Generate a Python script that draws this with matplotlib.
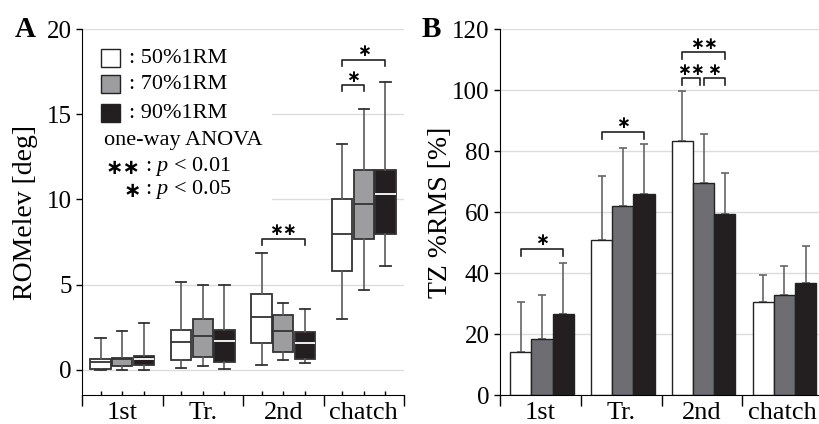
import numpy as np
import matplotlib.pyplot as plt
from matplotlib.patches import Rectangle

plt.rcParams['font.family'] = ['Liberation Serif', 'DejaVu Sans']
plt.rcParams['mathtext.fontset'] = 'custom'
plt.rcParams['mathtext.it'] = 'Liberation Serif:italic'
plt.rcParams['mathtext.rm'] = 'Liberation Serif'

groups = ['1st', 'Tr.', '2nd', 'chatch']
loads = ['50%1RM', '70%1RM', '90%1RM']

# panel A box stats, one row per load, columns = groups
rom_lo = [[0.0, 0.1, 0.3, 3.0], [0.0, 0.2, 0.55, 4.7], [0.0, 0.05, 0.4, 6.1]]
rom_q1 = [[0.05, 0.55, 1.55, 5.8], [0.2, 0.75, 1.05, 7.65], [0.25, 0.45, 0.6, 7.95]]
rom_med = [[0.45, 1.6, 3.1, 7.95], [0.6, 1.95, 2.25, 9.75], [0.6, 1.7, 1.55, 10.3]]
rom_q3 = [[0.6, 2.3, 4.45, 10.0], [0.7, 3.0, 3.2, 11.75], [0.8, 2.3, 2.2, 11.75]]
rom_hi = [[1.85, 5.15, 6.85, 13.25], [2.25, 5.0, 3.9, 15.3], [2.75, 5.0, 3.55, 16.9]]

# panel B mean + SD
tz_mean = [[14.2, 50.9, 83.2, 30.4], [18.3, 62.1, 69.5, 32.8], [26.5, 65.9, 59.3, 36.7]]
tz_sd = [[16.4, 21.1, 16.5, 9.0], [14.5, 18.8, 16.1, 9.4], [16.7, 16.4, 13.5, 12.1]]

colA = ['white', '#9d9d9f', '#231f20']
medA = ['#333333', '#333333', 'white']
colB = ['white', '#6e6d71', '#231f20']
offs = [-0.27, 0.0, 0.27]
STAR = '\u2217'
star_font = ['DejaVu Sans']

fig = plt.figure(figsize=(8.2, 4.24), dpi=100)
axA = fig.add_axes([0.1, 0.068, 0.3927, 0.863])
axB = fig.add_axes([0.6098, 0.068, 0.394, 0.863])

centers = np.arange(4) + 0.5

def style(ax):
    for s in ['top', 'right']:
        ax.spines[s].set_visible(False)
    ax.set_axisbelow(True)
    ax.yaxis.grid(True, color='#dcdcdc', lw=1)
    ax.set_xlim(0, 4)
    ax.set_xticks(centers)
    ax.set_xticklabels(groups, fontsize=19)
    ax.tick_params(axis='x', which='major', length=0, pad=5)
    ax.set_xticks(np.arange(5), minor=True)
    ax.tick_params(axis='x', which='minor', direction='out', length=8, width=1)
    ax.tick_params(axis='y', direction='out', length=4, width=1, labelsize=18)

def bracket(ax, x0, x1, y, leg, txt, ty, fs=12):
    ax.plot([x0, x0, x1, x1], [y - leg, y, y, y - leg], color='#222222', lw=1.2)
    ax.text((x0 + x1) / 2, ty, txt, ha='center', va='center', fontsize=fs,
            family=star_font, fontweight='bold')

# ---- A ----
style(axA)
axA.set_ylim(-1.5, 20)
axA.set_yticks([0, 5, 10, 15, 20])
axA.set_ylabel('ROMelev [deg]', fontsize=20)
axA.yaxis.set_label_coords(-0.137, 0.5)

allpos = []
for i in range(3):
    stats = []
    for g in range(4):
        stats.append(dict(whislo=rom_lo[i][g], q1=rom_q1[i][g], med=rom_med[i][g],
                          q3=rom_q3[i][g], whishi=rom_hi[i][g], fliers=[]))
    pos = centers + offs[i]
    allpos += list(pos)
    axA.bxp(stats, positions=pos, widths=0.25, patch_artist=True, showfliers=False,
            manage_ticks=False, capwidths=0.13,
            boxprops=dict(facecolor=colA[i], edgecolor='#333333', lw=1.3),
            whiskerprops=dict(color='#5a5a5a', lw=1.2),
            capprops=dict(color='#333333', lw=1.3),
            medianprops=dict(color=medA[i], lw=1.3))

sec = axA.secondary_xaxis('bottom')
sec.set_xticks(sorted(allpos))
sec.tick_params(direction='in', length=3, width=1, labelbottom=False)
sec.spines['bottom'].set_visible(False)

# legend block
axA.add_patch(Rectangle((0.0, 0.519), 0.59, 0.465, transform=axA.transAxes,
                        facecolor='white', edgecolor='none', zorder=1.5))
for i, ly in enumerate([0.896, 0.825, 0.746]):
    axA.add_patch(Rectangle((0.059, ly), 0.059, 0.049, transform=axA.transAxes,
                            facecolor=colA[i], edgecolor='#222222', lw=1, zorder=3))
    axA.text(0.146, ly + 0.025, ': ' + loads[i], transform=axA.transAxes,
             fontsize=16, va='center', zorder=3)
axA.text(0.068, 0.697, 'one-way ANOVA', transform=axA.transAxes, fontsize=16,
         va='center', zorder=3)
axA.text(0.073, 0.622, STAR + STAR, transform=axA.transAxes, fontsize=15,
         va='center', family=star_font, fontweight='bold', zorder=3)
axA.text(0.196, 0.626, r': $p$ < 0.01', transform=axA.transAxes, fontsize=16,
         va='center', zorder=3)
axA.text(0.128, 0.559, STAR, transform=axA.transAxes, fontsize=15,
         va='center', family=star_font, fontweight='bold', zorder=3)
axA.text(0.196, 0.563, r': $p$ < 0.05', transform=axA.transAxes, fontsize=16,
         va='center', zorder=3)

bracket(axA, 3.5 + offs[0], 3.5, 16.7, 0.35, STAR, 17.2)
bracket(axA, 3.5 + offs[0], 3.5 + offs[2], 18.2, 0.35, STAR, 18.75)
bracket(axA, 2.5 + offs[0], 2.5 + offs[2], 7.7, 0.35, STAR + STAR, 8.2)

# ---- B ----
style(axB)
axB.set_ylim(0, 120)
axB.set_yticks(np.arange(0, 121, 20))
axB.set_ylabel('TZ %RMS [%]', fontsize=20)
axB.yaxis.set_label_coords(-0.146, 0.5)
axB.spines['bottom'].set_zorder(4)
for i in range(3):
    pos = centers + 0.02 + offs[i] * 0.97
    axB.bar(pos, tz_mean[i], width=0.262, color=colB[i], edgecolor='#222222', lw=1, zorder=2)
    axB.errorbar(pos, tz_mean[i], yerr=[np.zeros(4), tz_sd[i]], fmt='none',
                 ecolor='#666666', elinewidth=1.2, capsize=3, capthick=1.2, zorder=1.8)

bc = lambda g, i: g + 0.52 + offs[i] * 0.97
bracket(axB, bc(0, 0), bc(0, 2), 47.8, 2.2, STAR, 50.8)
bracket(axB, bc(1, 0), bc(1, 2), 86.2, 2.2, STAR, 89.2)
bracket(axB, bc(2, 0), bc(2, 1) - 0.04, 104.0, 2.2, STAR + STAR, 106.8)
bracket(axB, bc(2, 1), bc(2, 2), 104.0, 2.2, STAR, 106.8)
bracket(axB, bc(2, 0), bc(2, 2), 112.5, 2.2, STAR + STAR, 115.2)

fig.text(0.018, 0.93, 'A', fontsize=21, fontweight='bold', va='center')
fig.text(0.514, 0.93, 'B', fontsize=21, fontweight='bold', va='center')

fig.savefig('out.png', dpi=100)
